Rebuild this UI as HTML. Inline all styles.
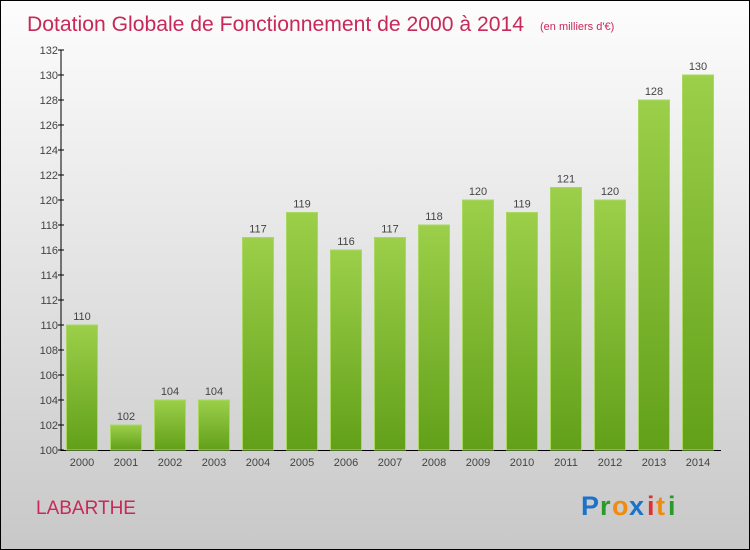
<!DOCTYPE html>
<html><head><meta charset="utf-8"><style>
body{margin:0}
#c{width:750px;height:550px;position:relative;overflow:hidden;box-sizing:border-box;border:1px solid #000;background:linear-gradient(#fdfdfd,#c8c8c8);font-family:"Liberation Sans",sans-serif}
</style></head><body>
<div id="c">
<svg width="750" height="550" style="position:absolute;left:-1px;top:-1px">
<defs><linearGradient id="g" x1="0" y1="0" x2="0" y2="1"><stop offset="0" stop-color="#9ccf4a"/><stop offset="1" stop-color="#62a019"/></linearGradient></defs>
<text x="27" y="31" font-size="21" fill="#c8285a" textLength="497" lengthAdjust="spacingAndGlyphs">Dotation Globale de Fonctionnement de 2000 à 2014</text>
<text x="540" y="30" font-size="11" fill="#c8285a">(en milliers d'€)</text>
<g id="yax"></g><g id="bars"></g>
<text x="36" y="514" font-size="19" fill="#c8285a">LABARTHE</text>
<g font-size="27" font-weight="bold"><text x="581" y="515" fill="#1a73c9">P</text><text x="600" y="515" fill="#2a9a2a">r</text><text x="612" y="515" fill="#f08a10">o</text><text x="629" y="515" fill="#1a73c9">x</text><text x="647" y="515" fill="#e03030">i</text><text x="656" y="515" fill="#f08a10">t</text><text x="668" y="515" fill="#2a9a2a">i</text></g>
</svg></div>
<script>
const years=["2000","2001","2002","2003","2004","2005","2006","2007","2008","2009","2010","2011","2012","2013","2014"];
const values=[110,102,104,104,117,119,116,117,118,120,119,121,120,128,130];
const yTicks=[100,102,104,106,108,110,112,114,116,118,120,122,124,126,128,130,132];
const NS="http://www.w3.org/2000/svg";
const y=v=>450-(v-100)*12.5, x=i=>82+i*44;
function mk(t,a,p,txt){const e=document.createElementNS(NS,t);for(const k in a)e.setAttribute(k,a[k]);if(txt!==undefined)e.textContent=txt;p.appendChild(e);return e;}
const ya=document.getElementById('yax'),bs=document.getElementById('bars');
let l=mk('line',{x1:61,y1:50,x2:61,y2:451,stroke:'#000','stroke-width':1},ya);


l=mk('line',{x1:61,y1:450.5,x2:721,y2:450.5,stroke:'#000','stroke-width':1},ya);


yTicks.forEach(v=>{mk('line',{x1:58,y1:y(v),x2:64,y2:y(v),stroke:'#000'},ya);
const t=mk('text',{x:58,y:y(v)+4,'font-size':11,fill:'#444','text-anchor':'end'},ya,v);

});
values.forEach((v,i)=>{const r=mk('rect',{x:x(i)-15.5,y:y(v),width:31,height:450-y(v),fill:'url(#g)',stroke:'#a8d860','stroke-width':1},bs);


const t=mk('text',{x:x(i),y:y(v)-5,'font-size':11,fill:'#444','text-anchor':'middle'},bs,v);


const xl=mk('text',{x:x(i),y:466,'font-size':11,fill:'#444','text-anchor':'middle'},bs,years[i]);

});
</script></body></html>
